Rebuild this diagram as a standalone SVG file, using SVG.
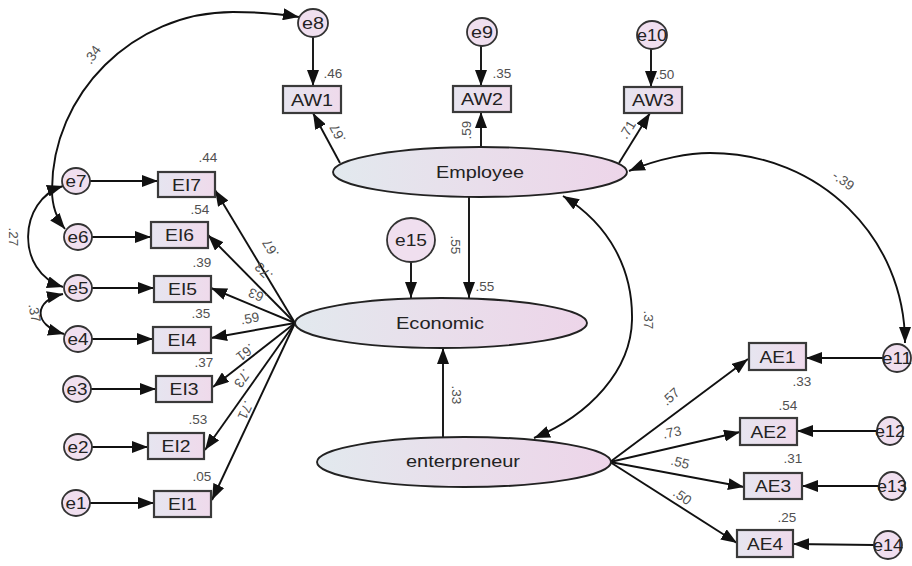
<svg xmlns="http://www.w3.org/2000/svg" width="912" height="566" viewBox="0 0 912 566">
<defs>
<linearGradient id="gEll" x1="0" y1="0" x2="1" y2="0">
<stop offset="0" stop-color="#e2e9ee"/>
<stop offset="0.5" stop-color="#e9deeb"/>
<stop offset="1" stop-color="#edd5e9"/>
</linearGradient>
<linearGradient id="gBox" x1="0" y1="0" x2="1" y2="0">
<stop offset="0" stop-color="#e6e5f0"/>
<stop offset="1" stop-color="#efdaeb"/>
</linearGradient>
<marker id="ah" viewBox="0 0 16 12" refX="16" refY="6" markerWidth="16" markerHeight="12" markerUnits="userSpaceOnUse" orient="auto-start-reverse">
<path d="M0,0 L16,6 L0,12 z" fill="#111"/>
</marker>
<style>
.box{fill:url(#gBox);stroke:#3a3a3a;stroke-width:2.2}
.ell{fill:url(#gEll);stroke:#222;stroke-width:1.9}
.err{fill:#f0dfef;stroke:#333;stroke-width:1.8}
.bl{font-family:"Liberation Sans",Arial,sans-serif;font-size:17px;fill:#222;text-anchor:middle}
.el{font-family:"Liberation Sans",Arial,sans-serif;font-size:16px;fill:#222;text-anchor:middle}
.ev{font-family:"Liberation Sans",Arial,sans-serif;font-size:16px;fill:#222;text-anchor:middle}
.num{font-family:"Liberation Sans",Arial,sans-serif;font-size:13.5px;fill:#505050;text-anchor:middle}
.ln{fill:none;stroke:#111;stroke-width:1.9;marker-end:url(#ah)}
.cv{fill:none;stroke:#111;stroke-width:1.9;marker-end:url(#ah);marker-start:url(#ah)}
</style>
</defs>

<g id="connectors">
<path class="ln" d="M313,37 L313,86"/>
<path class="ln" d="M481,46 L481,86"/>
<path class="ln" d="M651,49 L651,87"/>
<path class="ln" d="M90,181 L158,181"/>
<path class="ln" d="M92,237 L151,237"/>
<path class="ln" d="M92,288 L154,288"/>
<path class="ln" d="M92,339 L153,339"/>
<path class="ln" d="M91,389 L156,389"/>
<path class="ln" d="M92,447 L148,447"/>
<path class="ln" d="M90,503 L154,503"/>
<path class="ln" d="M883,358 L806,358"/>
<path class="ln" d="M877,431 L797,431"/>
<path class="ln" d="M879,486 L802,486"/>
<path class="ln" d="M874,545 L793,544"/>
<path class="ln" d="M340,163 L313,113"/>
<path class="ln" d="M481,147 L481,112"/>
<path class="ln" d="M619,163 L650,113"/>
<path class="ln" d="M469,197 L469,298"/>
<path class="ln" d="M411,262 L411,298"/>
<path class="ln" d="M443,437 L443,348"/>
<path class="ln" d="M295,323 L215,190"/>
<path class="ln" d="M295,323 L208,235"/>
<path class="ln" d="M295,323 L211,288"/>
<path class="ln" d="M295,323 L211,338"/>
<path class="ln" d="M295,323 L213,387"/>
<path class="ln" d="M295,323 L205,450"/>
<path class="ln" d="M295,323 L212,500"/>
<path class="ln" d="M610,462 L748,359"/>
<path class="ln" d="M610,462 L740,432"/>
<path class="ln" d="M610,462 L744,487"/>
<path class="ln" d="M610,462 L737,543"/>
<path class="cv" d="M299,17 C270,12 250,12 233,12 C133,12 52,94 52,190 C52,205 56,218 65,229"/>
<path class="cv" d="M63,186 C18,200 15,272 63,287"/>
<path class="cv" d="M63,294 C34,300 32,325 64,334"/>
<path class="cv" d="M629,171 C660,158 690,153 710,153 C820,153 905,238 905,343"/>
<path class="cv" d="M563,196 C610,225 633,270 632,320 C631,370 590,415 534,438"/>
</g>

<g id="Employee"><ellipse class="ell" cx="480" cy="172" rx="147" ry="25"/><text class="el" x="480" y="178" textLength="88" lengthAdjust="spacingAndGlyphs">Employee</text></g>
<g id="Economic"><ellipse class="ell" cx="441" cy="323" rx="146" ry="25"/><text class="el" x="440" y="329" textLength="88" lengthAdjust="spacingAndGlyphs">Economic</text></g>
<g id="enterpreneur"><ellipse class="ell" cx="464" cy="462" rx="147" ry="25"/><text class="el" x="463" y="467" textLength="114" lengthAdjust="spacingAndGlyphs">enterpreneur</text></g>

<g id="AW1"><rect class="box" x="283" y="86" width="58" height="27"/><text class="bl" x="312" y="106" textLength="42" lengthAdjust="spacingAndGlyphs">AW1</text></g>
<g id="AW2"><rect class="box" x="453" y="86" width="58" height="26"/><text class="bl" x="482" y="105" textLength="42" lengthAdjust="spacingAndGlyphs">AW2</text></g>
<g id="AW3"><rect class="box" x="624" y="87" width="58" height="26"/><text class="bl" x="653" y="106" textLength="42" lengthAdjust="spacingAndGlyphs">AW3</text></g>

<g id="EI7"><rect class="box" x="158" y="172" width="57" height="25"/><text class="bl" x="186.5" y="191" textLength="29" lengthAdjust="spacingAndGlyphs">EI7</text></g>
<g id="EI6"><rect class="box" x="151" y="222" width="57" height="26"/><text class="bl" x="179.5" y="241" textLength="29" lengthAdjust="spacingAndGlyphs">EI6</text></g>
<g id="EI5"><rect class="box" x="154" y="276" width="57" height="26"/><text class="bl" x="182.5" y="295" textLength="29" lengthAdjust="spacingAndGlyphs">EI5</text></g>
<g id="EI4"><rect class="box" x="153" y="327" width="58" height="26"/><text class="bl" x="182" y="346" textLength="29" lengthAdjust="spacingAndGlyphs">EI4</text></g>
<g id="EI3"><rect class="box" x="156" y="376" width="56" height="26"/><text class="bl" x="184" y="395" textLength="29" lengthAdjust="spacingAndGlyphs">EI3</text></g>
<g id="EI2"><rect class="box" x="148" y="433" width="56" height="26"/><text class="bl" x="176" y="452" textLength="29" lengthAdjust="spacingAndGlyphs">EI2</text></g>
<g id="EI1"><rect class="box" x="154" y="491" width="57" height="26"/><text class="bl" x="182.5" y="510" textLength="29" lengthAdjust="spacingAndGlyphs">EI1</text></g>

<g id="AE1"><rect class="box" x="749" y="343" width="57" height="27"/><text class="bl" x="777.5" y="363" textLength="36" lengthAdjust="spacingAndGlyphs">AE1</text></g>
<g id="AE2"><rect class="box" x="740" y="418" width="57" height="27"/><text class="bl" x="768.5" y="438" textLength="36" lengthAdjust="spacingAndGlyphs">AE2</text></g>
<g id="AE3"><rect class="box" x="744" y="473" width="58" height="26"/><text class="bl" x="773" y="492" textLength="36" lengthAdjust="spacingAndGlyphs">AE3</text></g>
<g id="AE4"><rect class="box" x="737" y="530" width="56" height="27"/><text class="bl" x="765" y="550" textLength="36" lengthAdjust="spacingAndGlyphs">AE4</text></g>

<g id="e1"><ellipse class="err" cx="76" cy="503" rx="14" ry="13"/><text class="ev" x="76" y="509" textLength="21" lengthAdjust="spacingAndGlyphs">e1</text></g>
<g id="e2"><ellipse class="err" cx="78" cy="447" rx="14" ry="13"/><text class="ev" x="78" y="453" textLength="21" lengthAdjust="spacingAndGlyphs">e2</text></g>
<g id="e3"><ellipse class="err" cx="77" cy="389" rx="14" ry="13"/><text class="ev" x="77" y="395" textLength="21" lengthAdjust="spacingAndGlyphs">e3</text></g>
<g id="e4"><ellipse class="err" cx="78" cy="339" rx="14" ry="13"/><text class="ev" x="78" y="345" textLength="21" lengthAdjust="spacingAndGlyphs">e4</text></g>
<g id="e5"><ellipse class="err" cx="78" cy="288" rx="14" ry="13"/><text class="ev" x="78" y="294" textLength="21" lengthAdjust="spacingAndGlyphs">e5</text></g>
<g id="e6"><ellipse class="err" cx="78" cy="237" rx="14" ry="13"/><text class="ev" x="78" y="243" textLength="21" lengthAdjust="spacingAndGlyphs">e6</text></g>
<g id="e7"><ellipse class="err" cx="76" cy="181" rx="14" ry="13"/><text class="ev" x="76" y="187" textLength="21" lengthAdjust="spacingAndGlyphs">e7</text></g>
<g id="e8"><ellipse class="err" cx="313" cy="23" rx="15" ry="14"/><text class="ev" x="313" y="29" textLength="22" lengthAdjust="spacingAndGlyphs">e8</text></g>
<g id="e9"><ellipse class="err" cx="482" cy="32" rx="15" ry="14"/><text class="ev" x="482" y="38" textLength="22" lengthAdjust="spacingAndGlyphs">e9</text></g>
<g id="e10"><ellipse class="err" cx="652" cy="35" rx="15" ry="14"/><text class="ev" x="652" y="41" textLength="30" lengthAdjust="spacingAndGlyphs">e10</text></g>
<g id="e11"><ellipse class="err" cx="897" cy="358" rx="14" ry="14"/><text class="ev" x="897" y="364" textLength="30" lengthAdjust="spacingAndGlyphs">e11</text></g>
<g id="e12"><ellipse class="err" cx="890" cy="431" rx="13" ry="14"/><text class="ev" x="890" y="437" textLength="30" lengthAdjust="spacingAndGlyphs">e12</text></g>
<g id="e13"><ellipse class="err" cx="892" cy="486" rx="13" ry="14"/><text class="ev" x="892" y="492" textLength="30" lengthAdjust="spacingAndGlyphs">e13</text></g>
<g id="e14"><ellipse class="err" cx="888" cy="545" rx="14" ry="14"/><text class="ev" x="888" y="551" textLength="30" lengthAdjust="spacingAndGlyphs">e14</text></g>
<g id="e15"><ellipse class="err" cx="411" cy="240" rx="24" ry="22"/><text class="el" x="411" y="246" textLength="32" lengthAdjust="spacingAndGlyphs">e15</text></g>

<g id="labels">
<text class="num" x="333" y="78">.46</text>
<text class="num" x="502" y="78">.35</text>
<text class="num" x="665" y="79">.50</text>
<text class="num" x="208" y="162">.44</text>
<text class="num" x="200" y="214">.54</text>
<text class="num" x="202" y="267">.39</text>
<text class="num" x="201" y="318">.35</text>
<text class="num" x="204" y="367">.37</text>
<text class="num" x="198" y="424">.53</text>
<text class="num" x="202" y="481">.05</text>
<text class="num" x="485" y="291">.55</text>
<text class="num" x="802" y="386">.33</text>
<text class="num" x="788" y="410">.54</text>
<text class="num" x="793" y="463">.31</text>
<text class="num" x="787" y="522">.25</text>
<text class="num" transform="translate(93,55) rotate(-55)" y="4">.34</text>
<text class="num" transform="translate(13,237) rotate(90)" y="4">.27</text>
<text class="num" transform="translate(34,313) rotate(80)" y="4">.37</text>
<text class="num" transform="translate(843,181) rotate(35)" y="4">-.39</text>
<text class="num" transform="translate(338,133) rotate(-118)" y="4">.67</text>
<text class="num" transform="translate(467,130) rotate(-90)" y="4">.59</text>
<text class="num" transform="translate(628,130) rotate(-59)" y="4">.71</text>
<text class="num" transform="translate(455,245) rotate(90)" y="4">.55</text>
<text class="num" transform="translate(456,395) rotate(90)" y="4">.33</text>
<text class="num" transform="translate(648,320) rotate(90)" y="4">.37</text>
<text class="num" transform="translate(271,248) rotate(-121)" y="4">.67</text>
<text class="num" transform="translate(264,271) rotate(-135)" y="4">.73</text>
<text class="num" transform="translate(258,295) rotate(-157)" y="4">.63</text>
<text class="num" transform="translate(250,319) rotate(-10)" y="4">.59</text>
<text class="num" transform="translate(245,352) rotate(142)" y="4">.61</text>
<text class="num" transform="translate(242,378) rotate(125)" y="4">.73</text>
<text class="num" transform="translate(245,410) rotate(115)" y="4">.71</text>
<text class="num" transform="translate(671,397) rotate(-42)" y="4">.57</text>
<text class="num" transform="translate(672,433) rotate(-12)" y="4">.73</text>
<text class="num" transform="translate(680,463) rotate(14)" y="4">.55</text>
<text class="num" transform="translate(682,497) rotate(36)" y="4">.50</text>
</g>
</svg>
